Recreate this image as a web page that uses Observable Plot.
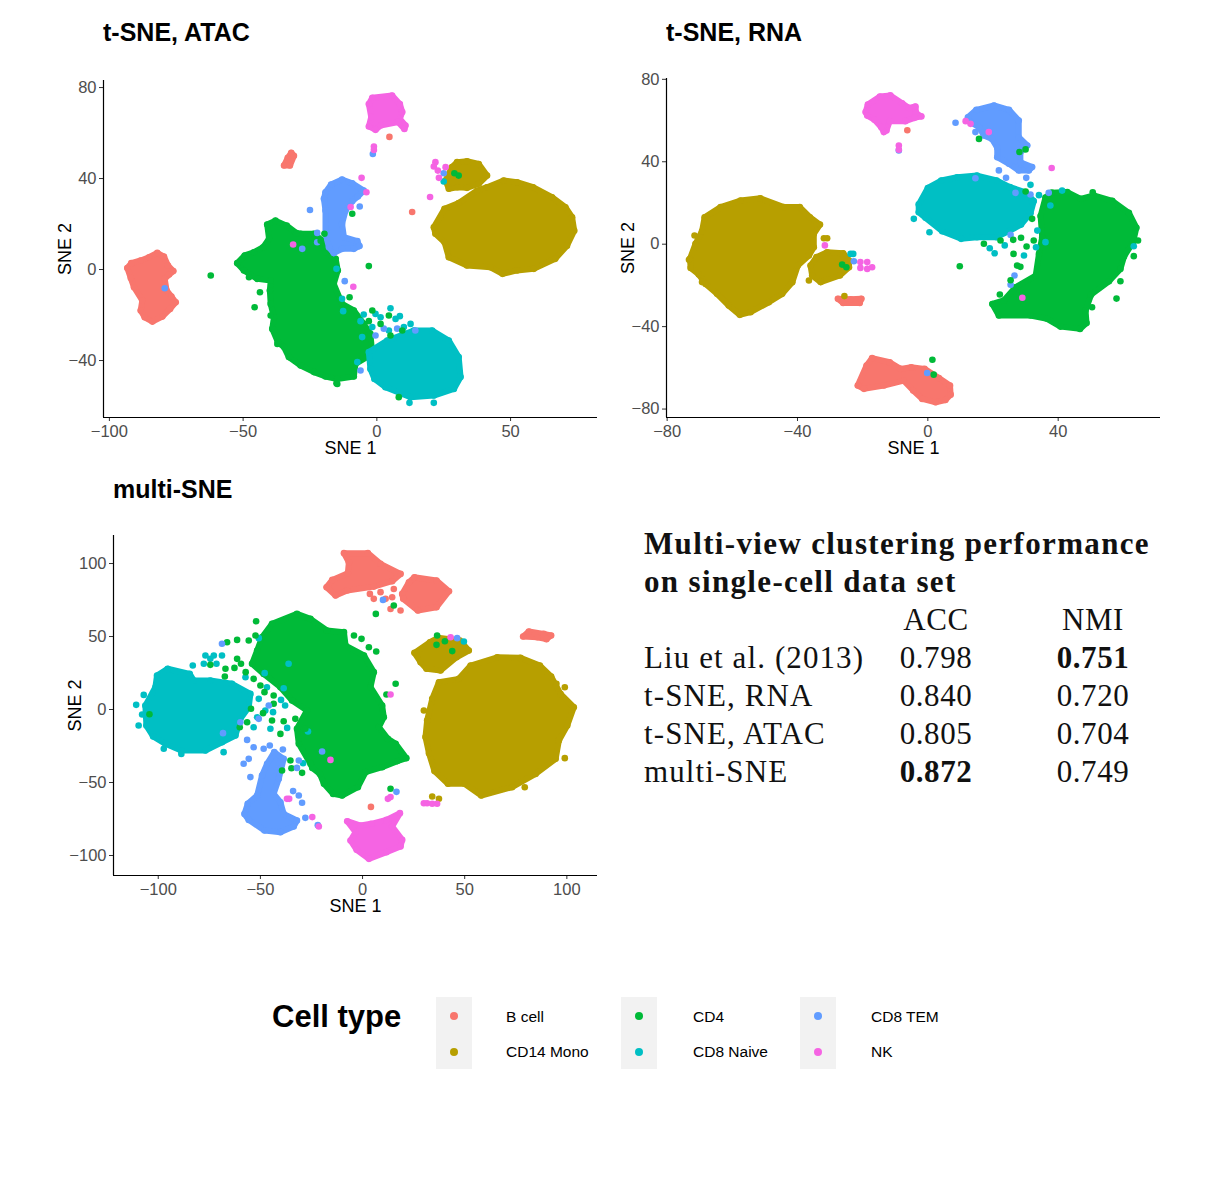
<!DOCTYPE html>
<html>
<head>
<meta charset="utf-8">
<script src="https://cdn.jsdelivr.net/npm/d3@7"></script>
<script src="https://cdn.jsdelivr.net/npm/@observablehq/plot@0.6"></script>
<style>
  html, body { margin: 0; background: #fff; }
  #page { position: relative; width: 1213px; height: 1181px; overflow: hidden; font-family: "Liberation Sans", sans-serif; }
  #page > * { position: absolute; }
  #page svg { overflow: visible; }
  .title { font-size: 25px; font-weight: bold; color: #000; line-height: 30px; white-space: nowrap; }
  .tex { font-family: "Liberation Serif", serif; font-size: 31px; line-height: 38px; color: #111; white-space: nowrap; }
  .tex.head { font-weight: bold; letter-spacing: 1.35px; }
  .tex.num { width: 120px; text-align: center; letter-spacing: 0.6px; }
  .tex.row { letter-spacing: 1.1px; }
  .tex b { font-weight: bold; }
  .key { background: #f2f2f2; width: 36px; height: 72px; }
  .swatch { width: 8px; height: 8px; border-radius: 50%; }
  .label { font-size: 15.5px; line-height: 18px; color: #000; white-space: nowrap; }
  g[aria-label="x-axis label"], g[aria-label="y-axis label"] { fill: #000; font-size: 18px; }
</style>
</head>
<body>
<div id="page"></div>
<script>
// Cell types and ggplot colours
const cellTypes = ["B cell", "CD14 Mono", "CD4", "CD8 Naive", "CD8 TEM", "NK"]
const cellColors = ["#F8766D", "#B79F00", "#00BA38", "#00BFC4", "#619CFF", "#F564E3"]

// Cluster outlines (the points inside them overlap
// too much to read one by one), strays are the single points that can be seen.

// t-SNE, ATAC
const atacBCell = [[-93.3,0.7],[-91.8,2.8],[-88.3,4],[-85.2,5.4],[-82.1,7.3],[-79.6,5.7],[-78.1,1.8],[-76.1,-0.7],[-77.7,-2.2],[-79.3,-4.1],[-78.6,-9.2],[-76.8,-11.9],[-75.2,-14.4],[-77.3,-17.3],[-80.2,-20.7],[-83.9,-22.9],[-86.8,-21],[-88.3,-18],[-87.7,-13.6],[-90.8,-7.8],[-92,-3.7]]
const atacBCell2 = [[-34.7,45.7],[-33.3,49.1],[-32,51.3],[-31,50],[-32.5,45.7]]
const atacBCellStray = [[4.7,58.3],[13.2,25.3]]
const atacMono = [[21.3,18.6],[25.3,26.7],[30.6,29.2],[37.5,34.7],[41.2,36.2],[47.4,39.1],[52.4,38.4],[58.4,36.2],[65.5,31.8],[70.5,27.4],[73,23],[73.8,17.1],[71.1,10.5],[66.7,4.7],[58.7,0.3],[52.4,-0.4],[47,-1.9],[42.5,1],[33.7,1.8],[26.9,5.4],[25.3,12],[21.9,15.7]]
const atacMono2 = [[26.9,35.5],[25.7,39.1],[28.1,45],[30,47.2],[33.7,47.6],[38.1,46.4],[41.2,41.3],[38.1,37.7],[33.7,35.9],[30,36.2]]
const atacCd4 = [[-28.5,15.7],[-23.5,15.7],[-20.4,12.7],[-19.2,7.6],[-15.4,4.7],[-14.6,-0.4],[-16.1,-6.3],[-13,-15.1],[-8.6,-18],[-4.9,-23.9],[-2.4,-28.3],[-1.7,-37.1],[-8,-41.5],[-8.6,-47],[-14.8,-48.1],[-19.2,-47],[-23.5,-45.1],[-28.5,-42.2],[-32.9,-38.5],[-34.7,-34.1],[-37,-31.9],[-39.1,-26.1],[-38.5,-21],[-39.7,-15.1],[-40,-9.2],[-39.7,-4.8],[-44.7,-4.1],[-49.7,-0.4],[-52.2,2.8],[-49.4,6.2],[-46,7.6],[-42.5,9.8],[-40.3,13.5],[-41,19.8],[-37.9,21.5],[-33.7,19.3],[-30,16]]
const atacCd4Stray = [[-62.1,-2.6],[-47.8,-3.4],[-43.7,-10],[-45.7,-16.6],[-39.7,-20.2],[-38.5,-26.5],[-37.2,-32.7],[-15.1,-50],[-3,1.5],[-10.2,-12.2],[-14.8,-50.3],[-9.2,-18],[-1.7,-18],[5.1,-29],[-3,-22.7],[1.4,-23.9],[4.5,-20.2],[9.5,-26.8],[8.2,-56.1],[29,42.3],[30.6,41.3],[-9.2,24.5],[-21,12.7],[-19.6,15.7]]
const atacNaive = [[-2.4,-43.7],[-3,-36.3],[3.9,-31.2],[13.8,-26.8],[20.7,-26.8],[26.9,-31.2],[30.6,-38.5],[31.3,-47.3],[28.8,-52.5],[21.3,-55.4],[12.6,-56.1],[3.2,-51.7],[-0.9,-48.1]]
const atacNaiveStray = [[12.2,-58.6],[21.3,-58.6],[-4.9,-19.8],[-0.5,-19.5],[5.1,-17],[8.6,-20.5],[12.6,-23.9],[-5.5,-29.7],[4.5,-26.8],[-1.7,-25.3],[-13,-12.9],[-12.6,-18.3],[-15.1,0.3],[25,38.7],[-7.3,-40.7],[-6.1,-22.7],[1.4,-21],[7,-21.7],[10.1,-25.3]]
const atacTem = [[-19.2,34],[-17.1,37.4],[-13,39.6],[-9.2,37.9],[-4.9,34.7],[-7.1,32.1],[-9.2,30],[-11.7,25.9],[-13,20.1],[-12.3,14.2],[-7.3,12.5],[-6.5,10.3],[-8.6,9.1],[-13,9.1],[-16.1,7.2],[-17.9,9.8],[-19.2,15.7],[-19.2,25.9],[-19.8,31.1]]
const atacTemStray = [[-25,26.2],[-6.4,27.7],[-12,-5.1],[-1.5,50.8],[25,42.3],[-79.3,-8.2],[-27.9,9.1],[-22.3,12],[2.6,-26],[7.6,-26],[14.4,-26.8],[-0.5,-29],[-6.1,-44.4],[-22.3,16.1]]
const atacNk = [[-3,72.8],[-1.7,75.5],[5.7,76.5],[8.6,72.8],[9.5,69.2],[8.6,66.2],[10.7,63.3],[10.3,61.8],[8,64.8],[1.4,63.3],[-0.5,61.4],[-3,62.9],[-2.1,67]]
const atacNkStray = [[-1.1,54.1],[-1.1,52.6],[-5.7,40.3],[-3.9,34],[-9.8,27.5],[-8.8,-7.6],[19.9,31.9],[21.9,47.2],[21.3,45.3],[22.8,43.5],[25.7,45],[23.2,40.3],[-31.3,11]]

// t-SNE, RNA
const rnaBCell = [[-21.5,-68.6],[-18.8,-58.9],[-17.1,-55.3],[-11.7,-57.3],[-8.4,-60.5],[-5.1,-59.7],[-1,-60.5],[3.4,-64.9],[6.8,-68.6],[7,-73],[5.4,-75.6],[2.4,-76.7],[-1.7,-75.1],[-4.5,-71],[-7.4,-66.2],[-13.5,-68.6],[-19.6,-70.2]]
const rnaBCell2 = [[-27.6,-26.5],[-26,-28.5],[-20.9,-28.5],[-20.4,-26.5],[-23.7,-26.7]]
const rnaBCellStray = [[-6.3,55.3]]
const rnaMono = [[-68.5,13.1],[-63.6,18],[-57.5,21.2],[-51.4,22.3],[-44.2,18],[-39.3,18],[-36.2,13.1],[-33.1,9.5],[-35,5],[-35,-1.5],[-36.5,-5.5],[-39.9,-10.4],[-41.6,-18.5],[-44.7,-24.1],[-48.8,-28.2],[-54.4,-33],[-57.7,-34.3],[-61.1,-29.8],[-64.7,-24.1],[-68.2,-19.3],[-70.3,-14.7],[-72.8,-11.5],[-73,-7.1],[-71.3,0.2],[-69.3,6.3]]
const rnaMono2 = [[-36,-10.4],[-34.2,-6.3],[-30.9,-3.9],[-26,-4.4],[-24.2,-7.9],[-24.2,-11.2],[-27,-15.2],[-32.9,-18.4],[-35.5,-15.2]]
const rnaMonoStray = [[-31.9,2.9],[-30.9,2.9],[-71.6,4.2],[-73.3,-7.6],[-69.3,-18.4],[-36.5,-17.6],[-25.6,-25.2]]
const rnaCd4 = [[34.6,13.7],[36.1,22.6],[38,25],[42.8,25.3],[46.9,22],[50.9,23.7],[56.6,21],[61.7,15.2],[64,8],[63,1],[60.2,-6],[59.1,-12],[55.6,-18],[50.1,-24.5],[48.4,-32.2],[48.7,-38.3],[46.7,-41.1],[40.7,-40],[36.6,-36.2],[31.5,-34.6],[21.8,-34.6],[19.8,-29],[23.3,-27.3],[26.9,-20.9],[33.1,-15.2],[34.1,-4.7],[35.1,3.4]]
const rnaCd4Stray = [[9.8,-10.7],[57.9,-26.4],[50.6,25.2],[63.2,-5.8],[64.5,1.8],[59.1,-18],[30,25.6],[26.3,-4.7],[27.4,-10.4],[26.2,2.1],[28.6,3.1],[30.3,-1.1],[32.5,1.8],[22.3,1.8],[17.2,0.2],[22.1,-24.4],[50.4,-30.6],[32,12.3],[-26.3,-9.9],[-25,-11.2],[28.4,-11],[25.4,-17.5],[15.7,51.1],[28.1,44.7],[30,46],[1.4,-56.1],[1.8,-63.3]]
const rnaNaive = [[-2.8,19.3],[0,27.3],[4.1,30.9],[9,32.5],[15.1,33.3],[21.1,30.9],[25.2,27.7],[30,25.2],[32.5,20.9],[31.5,15],[28.6,9.5],[25.2,6.6],[21.1,3.4],[15.1,3.4],[10.2,2.6],[4.4,6.3],[-0.7,12.8],[-2.8,15.5]]
const rnaNaiveStray = [[-4.3,12.3],[0.5,5.8],[31.5,28.8],[34.1,23.8],[41.2,26],[19,-2],[20.5,-4.4],[23.6,-0.6],[29.5,-5.5],[33.2,-1.5],[36.1,1],[37.6,18.8],[33.6,6.6],[63.2,-1],[-23.7,-4.7],[-22.9,-4.7]]
const rnaTem = [[12.3,61.6],[14.9,65.2],[20.3,67.3],[24.9,65.2],[27.9,60],[27.9,51.9],[30.5,47.9],[28.4,44.6],[28.4,39.8],[32,37.4],[31,35.8],[27.9,35.8],[24.9,39],[21.3,42.2],[21.3,46.8],[19.7,51.1],[17.2,52.8],[15.7,56.8],[13.1,59.2]]
const rnaTemStray = [[8.5,58.9],[14.6,54.4],[21.8,35.8],[24,32.2],[30.2,32.2],[14.6,32],[-8.9,45.5],[31.5,24.1],[37.1,24.9],[26.9,24.9],[25.4,4.5],[26.6,-15.2],[25.4,-19.7],[-22.7,-8.3],[-0.2,-62.5]]
const rnaNk = [[-19.1,64.1],[-18.4,67.8],[-14.7,71.7],[-11.5,72.2],[-7.9,68.4],[-5.8,66.1],[-3.8,66.8],[-3.6,63.6],[-2,62],[-4.1,61.3],[-6.9,59.7],[-11.7,59.7],[-12.7,55.2],[-13.5,54.4],[-14.3,56.8],[-16.4,60.4],[-18.6,62.4]]
const rnaNkStray = [[-8.9,47.9],[-8.9,45.8],[38,37],[18.7,54.4],[13.1,58.4],[11.6,59.7],[29,-26],[-31.6,-0.6],[-20.7,-8.7],[-18.6,-8.7],[-17.1,-11.2],[-20.7,-11.5],[-18.6,-12]]

// multi-SNE
const multiBCell = [[-17.6,83.8],[-14.8,88.8],[-7.2,93.4],[-6.7,100.9],[-9.1,107.1],[2.6,107.1],[8.8,99.8],[18.6,92.9],[14.5,87.9],[5.5,84.2],[-7.5,81.5],[-13.2,78.1]]
const multiBCell2 = [[19.4,79.2],[22.7,87.2],[25.4,90.6],[36.2,88.4],[42.3,81],[36.2,70.1],[27.1,67.8],[19.9,75.8]]
const multiBCell3 = [[78.6,50],[81.4,53.4],[88.7,51.8],[92.3,50.7],[90,48.2],[85.5,49.5]]
const multiBCellStray = [[3.6,79.2],[5.5,75.8],[8.8,80.4],[13.7,68.9],[11.3,75.8],[18.6,67.8],[15.3,82.6],[14.5,76.9],[4.1,-66.7]]
const multiMono = [[34.1,7.3],[37.4,18.7],[47.1,21],[52.9,30.1],[65.9,35.8],[77.3,35.4],[86.8,30.1],[92.3,22.6],[96.9,10.7],[103.4,1.6],[100.2,-11],[96.1,-21.2],[94.5,-33.8],[84.7,-44.1],[73.2,-53.2],[58.1,-58.9],[49.9,-50.9],[41.8,-50.9],[35.2,-42.2],[32.5,-29.9],[30.8,-18.9],[31.6,-7.5]]
const multiMono2 = [[25.4,38.8],[33,46.1],[36.9,49.1],[47.6,47.3],[52,40.4],[46,35.8],[38.2,26.7],[31.3,27.9],[28.4,32.4]]
const multiMonoStray = [[30,-0.7],[99,15.3],[99,-33.3],[79.4,-53.2],[94.9,17.6],[34.1,-59.6],[37.4,-61.2]]
const multiCd4 = [[-49.2,49.5],[-44.3,58.7],[-32.1,65.5],[-25.5,62.1],[-17.4,54.1],[-9.1,53],[-8.3,43.8],[0.7,37],[5.5,25.6],[3.9,15.3],[9.6,2.7],[10.4,-5.3],[8,-12.1],[12.4,-20.1],[16.2,-23.5],[21.4,-33.3],[17,-35.4],[9.6,-39.5],[1.5,-42.9],[-2.3,-53.2],[-10,-58.9],[-14.4,-57.8],[-18.9,-50.9],[-20.9,-44.1],[-24.6,-40],[-25.5,-37.2],[-31.2,-23.5],[-32.1,-13.2],[-27.2,-0.7],[-34.5,6.2],[-40.2,15.3],[-48.4,24.4],[-54.1,31.3],[-51.6,40.4]]
const multiCd4Stray = [[-104.3,-3.2],[-52.1,60.5],[-61.4,47.7],[-55.7,47.3],[-52.4,50.7],[-66.3,46.1],[-61.4,34.7],[-59.5,31.3],[-67.1,27.9],[-67.4,22.6],[-62.7,28.5],[-57.2,25.6],[-53.3,21],[-50,16.4],[-48,11.9],[-43.5,9.6],[-43.5,3.9],[-48.7,-2.5],[-54.6,0.5],[-56.5,-8.7],[-60.1,-12.1],[-44.3,-7.5],[-38.6,-8],[-40.2,-16.7],[-35.3,-34.9],[-39.4,-41.8],[-34.8,-40.2],[-29.6,-43.4],[-32.9,-6.4],[-28,-13.2],[-74.5,30.6],[-4.2,50.7],[-0.5,48.4],[3.1,42.7],[6.7,39.7],[16.2,17.6],[11.7,10.3],[13.7,-54.3],[6.5,65.5],[15.3,71.2],[36.5,50.7],[40.3,46.8],[36.2,44.3],[43.9,40]]
const multiNaive = [[-106.3,2.7],[-101.4,15.3],[-100.6,23.3],[-95.4,27.9],[-84.6,24.4],[-82.6,19.9],[-74.5,19.9],[-63.9,17.6],[-54.9,10.7],[-55.7,1.6],[-59.8,-6.4],[-62.2,-17.8],[-68.8,-22.4],[-76.9,-28.1],[-88.8,-28.1],[-96.5,-23.5],[-102.5,-18.5],[-105.8,-11]]
const multiNaiveStray = [[-76.9,37],[-72.8,37],[-68.8,37],[-83.1,30.1],[-77.7,31.3],[-71.5,31.3],[-74.5,34.7],[-110.8,3.2],[-107.1,10],[-109.6,-11],[-107.9,-3.4],[-97.3,-26.9],[-88.7,-30.4],[-68,-29.2],[-50.8,48.9],[-36.2,31.3],[-47.9,24.9],[-38.6,14.6],[-39.9,6.6],[-37.9,2.7],[-43.8,-1.8],[-50.8,7.3],[-46.8,15.3],[-53.3,-12.1],[-45.1,-13.2],[-36.9,-12.6],[-26.7,-15.1],[-29.1,-36.8],[-57.3,22.1],[-47.6,-0.7],[-51.6,-5.3],[49.6,46.6]]
const multiTem = [[-46.7,-37.2],[-43.2,-29.2],[-38.6,-33.8],[-41,-47.5],[-43.5,-57.8],[-40.2,-63.5],[-38.6,-71.5],[-32.1,-76],[-33.7,-80.1],[-40.2,-84],[-48,-82.9],[-55.7,-75.6],[-57.8,-71.5],[-56.2,-64.6],[-51.6,-58.9],[-49.2,-45.2]]
const multiTemStray = [[-58.2,-37.2],[-55.7,-33.8],[-54.9,-46.3],[-53.3,-25.8],[-56.5,-20.8],[-48.4,-26.9],[-45.4,-24.7],[-39,-27.4],[-68.8,45],[-45.9,2.7],[-50.8,-6.4],[-59.8,-8.7],[-68.3,-16.2],[-34,-55.9],[-31.2,-58.9],[-29.6,-63.9],[-28,-74.2],[-21.9,-79.2],[-19.8,-28.8],[-31.2,-34.9],[-32.1,-40],[10,75.1],[16.6,-56.4],[46.3,48.9]]
const multiNk = [[-7.5,-76.5],[-1,-79.5],[4.2,-78.3],[11.7,-75.6],[18.3,-71],[14.5,-80.1],[19.4,-89.3],[18.6,-93.8],[11.7,-97.7],[3.1,-102.3],[-2.9,-96.1],[-5.9,-89.7],[-3.4,-84]]
const multiNkStray = [[13.7,10.3],[13.7,-60],[12.4,-61.2],[31.6,-64.2],[34.1,-64.6],[36.5,-64.6],[30,-64.2],[-15.7,-34.5],[-24.6,-73.7],[-35.9,-61.2],[-37,-61.2],[-21.4,-80.1],[43.1,49.5]]

// Table
const tableMethods = ["Liu et al. (2013)", "t-SNE, RNA", "t-SNE, ATAC", "multi-SNE"]
const tableAcc = ["0.798", "0.840", "0.805", "0.872"]
const tableNmi = ["0.751", "0.720", "0.704", "0.749"]

const page = document.getElementById('page')
const colorOf = type => cellColors[cellTypes.indexOf(type)]

function scatter({left, top, width, height, marginLeft, marginTop, xDomain, yDomain, xTicks, yTicks, clusters, strays, title, titleLeft, titleTop}) {
    const marks = [
        Plot.axisX({ticks: xTicks, tickSize: 4, tickPadding: 4, fontSize: 16.5, stroke: '#333', fill: '#4d4d4d', label: 'SNE 1', labelAnchor: 'center', labelOffset: 36, labelArrow: 'none'}),
        Plot.axisY({ticks: yTicks, tickSize: 4, tickPadding: 3, fontSize: 16.5, stroke: '#333', fill: '#4d4d4d', label: 'SNE 2', labelAnchor: 'center', labelOffset: 45, labelArrow: 'none'}),
    ]
    for (const [outline, type] of clusters) {
        marks.push(Plot.line(outline, {x: d => d[0], y: d => d[1], curve: 'linear-closed', fill: colorOf(type), stroke: colorOf(type), strokeWidth: 6, strokeLinejoin: 'round'}))
        marks.push(Plot.dot(outline, {x: d => d[0], y: d => d[1], r: 3.3, fill: colorOf(type)}))
    }
    for (const [points, type] of strays) {
        marks.push(Plot.dot(points, {x: d => d[0], y: d => d[1], r: 3.3, fill: colorOf(type)}))
    }
    marks.push(Plot.ruleX([xDomain[0]], {stroke: '#000', strokeWidth: 1.2}))
    marks.push(Plot.ruleY([yDomain[0]], {stroke: '#000', strokeWidth: 1.2}))

    const chart = Plot.plot({
        width, height, marginLeft, marginTop,
        marginRight: 3,
        marginBottom: 53,
        x: {domain: xDomain, nice: false},
        y: {domain: yDomain, nice: false},
        style: {fontFamily: '"Liberation Sans", sans-serif', background: 'transparent'},
        marks,
    })
    chart.style.left = left + 'px'
    chart.style.top = top + 'px'
    page.append(chart)

    const head = document.createElement('div')
    head.className = 'title'
    head.textContent = title
    head.style.left = titleLeft + 'px'
    head.style.top = titleTop + 'px'
    page.append(head)
}

scatter({
    left: 0, top: 0, width: 600, height: 470, marginLeft: 103, marginTop: 80,
    xDomain: [-102.2, 82.5], yDomain: [-65.05, 83.1],
    xTicks: [-100, -50, 0, 50], yTicks: [-40, 0, 40, 80],
    title: 't-SNE, ATAC', titleLeft: 103, titleTop: 17,
    clusters: [[atacCd4, 'CD4'], [atacTem, 'CD8 TEM'], [atacNaive, 'CD8 Naive'], [atacMono, 'CD14 Mono'], [atacMono2, 'CD14 Mono'], [atacBCell, 'B cell'], [atacBCell2, 'B cell'], [atacNk, 'NK']],
    strays: [[atacNaiveStray, 'CD8 Naive'], [atacTemStray, 'CD8 TEM'], [atacCd4Stray, 'CD4'], [atacNkStray, 'NK'], [atacBCellStray, 'B cell']],
})

scatter({
    left: 563, top: 0, width: 600, height: 470, marginLeft: 103, marginTop: 78,
    xDomain: [-80.2, 71.4], yDomain: [-84.1, 80.4],
    xTicks: [-80, -40, 0, 40], yTicks: [-80, -40, 0, 40, 80],
    title: 't-SNE, RNA', titleLeft: 666, titleTop: 17,
    clusters: [[rnaCd4, 'CD4'], [rnaNaive, 'CD8 Naive'], [rnaTem, 'CD8 TEM'], [rnaMono, 'CD14 Mono'], [rnaMono2, 'CD14 Mono'], [rnaBCell, 'B cell'], [rnaBCell2, 'B cell'], [rnaNk, 'NK']],
    strays: [[rnaMonoStray, 'CD14 Mono'], [rnaNaiveStray, 'CD8 Naive'], [rnaTemStray, 'CD8 TEM'], [rnaCd4Stray, 'CD4'], [rnaNkStray, 'NK'], [rnaBCellStray, 'B cell']],
})

scatter({
    left: 0, top: 457, width: 600, height: 471, marginLeft: 113, marginTop: 78,
    xDomain: [-121.9, 115], yDomain: [-113.7, 119.2],
    xTicks: [-100, -50, 0, 50, 100], yTicks: [-100, -50, 0, 50, 100],
    title: 'multi-SNE', titleLeft: 113, titleTop: 474,
    clusters: [[multiCd4, 'CD4'], [multiNaive, 'CD8 Naive'], [multiTem, 'CD8 TEM'], [multiMono, 'CD14 Mono'], [multiMono2, 'CD14 Mono'], [multiBCell, 'B cell'], [multiBCell2, 'B cell'], [multiBCell3, 'B cell'], [multiNk, 'NK']],
    strays: [[multiMonoStray, 'CD14 Mono'], [multiBCellStray, 'B cell'], [multiNaiveStray, 'CD8 Naive'], [multiCd4Stray, 'CD4'], [multiTemStray, 'CD8 TEM'], [multiNkStray, 'NK']],
})

// the table on the right
function put(cls, html, left, top) {
    const el = document.createElement('div')
    el.className = cls
    el.innerHTML = html
    el.style.left = left + 'px'
    el.style.top = top + 'px'
    page.append(el)
    return el
}
put('tex head', 'Multi-view clustering performance', 644, 525)
put('tex head', 'on single-cell data set', 644, 563)
put('tex num', 'ACC', 876, 601)
put('tex num', 'NMI', 1033, 601)
tableMethods.forEach((method, i) => {
    const top = 639 + i * 38
    put('tex row', method, 644, top)
    put('tex num', method == 'multi-SNE' ? `<b>${tableAcc[i]}</b>` : tableAcc[i], 876, top)
    put('tex num', i == 0 ? `<b>${tableNmi[i]}</b>` : tableNmi[i], 1033, top)
})

// legend
put('title', 'Cell type', 272, 1002).style.fontSize = '31px'
const keyColumns = [436, 621, 800]
const labelColumns = [506, 693, 871]
keyColumns.forEach(x => put('key', '', x, 997))
cellTypes.forEach((type, i) => {
    const col = Math.floor(i / 2)
    const row = i % 2
    // legend runs down the columns in this order: B cell, CD14 Mono / CD4, CD8 Naive / CD8 TEM, NK
    const s = put('swatch', '', keyColumns[col] + 14, 1012 + row * 36)
    s.style.background = cellColors[i]
    put('label', type, labelColumns[col], 1008 + row * 35)
})
</script>
</body>
</html>
